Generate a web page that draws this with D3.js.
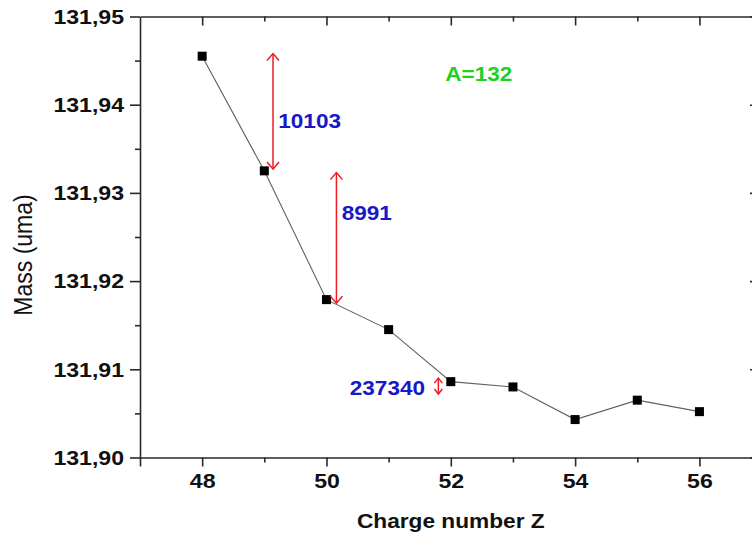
<!DOCTYPE html>
<html>
<head>
<meta charset="utf-8">
<script src="https://cdn.jsdelivr.net/npm/d3@7"></script>
<style>
  html, body { margin: 0; padding: 0; background: #fff; overflow: hidden; }
  svg { display: block; }
  text { font-family: "Liberation Sans", Arial, sans-serif; }
</style>
</head>
<body>
<svg id="chart" width="752" height="535"></svg>
<script>
// ---- data ----
const chargeZ = [48, 49, 50, 51, 52, 53, 54, 55, 56];
const massUma = [131.9455, 131.9325, 131.9179, 131.9145, 131.9086, 131.9080, 131.9043, 131.9065, 131.9052];

const xMajorTicks = [48, 50, 52, 54, 56];
const xTickLabels = ["48", "50", "52", "54", "56"];
const xMinorTicks = [49, 51, 53, 55];
const yMajorTicks = [131.90, 131.91, 131.92, 131.93, 131.94, 131.95];
const yTickLabels = ["131,90", "131,91", "131,92", "131,93", "131,94", "131,95"];
const yMinorTicks = [131.905, 131.915, 131.925, 131.935, 131.945];

// arrows: Z position, top mass, bottom mass
const arrowZ = [49.14, 50.16, 51.80];
const arrowTop = [131.9458, 131.9323, 131.9090];
const arrowBottom = [131.9327, 131.9175, 131.9072];
// annotation labels
const noteText = ["10103", "8991", "237340"];
const noteZ = [49.225, 50.245, 51.585];
const noteMass = [131.9374, 131.9269, 131.9071];
const noteAnchor = ["start", "start", "end"];
const tagText = "A=132";
const tagZ = 51.91;
const tagMass = 131.9427;

const xTitle = "Charge number Z";
const yTitle = "Mass (uma)";

(function () {
// ---- layout ----
const svg = d3.select("#chart");
const pLeft = 140, pRight = 756, pTop = 16.5, pBottom = 457.5;
const x = d3.scaleLinear().domain([47, 56.91]).range([pLeft, pRight]);
const y = d3.scaleLinear().domain([131.90, 131.95]).range([pBottom, pTop]);
const axisColor = "#2a2a2a";
const SX = 1.1;

function styleAxis(g) {
  g.selectAll("path, line").attr("stroke", axisColor).attr("stroke-width", 1.6);
}

// bottom axis
const gB = svg.append("g").attr("transform", `translate(0,${pBottom})`)
  .call(d3.axisBottom(x).tickValues(xMajorTicks)
    .tickFormat((d, i) => xTickLabels[i]).tickSize(9).tickSizeOuter(9).tickPadding(7));
gB.selectAll("text").attr("font-size", 21).attr("font-weight", "bold").attr("fill", "#111")
  .attr("transform", `scale(${SX},1)`);
svg.append("g").attr("transform", `translate(0,${pBottom})`)
  .call(d3.axisBottom(x).tickValues(xMinorTicks).tickFormat("").tickSize(5).tickSizeOuter(0))
  .call(g => g.select(".domain").remove()).call(styleAxis);
styleAxis(gB);

// top axis (ticks inward)
svg.append("g").attr("transform", `translate(0,${pTop})`)
  .call(d3.axisTop(x).tickValues(xMajorTicks).tickFormat("").tickSize(-9).tickSizeOuter(0))
  .call(styleAxis);
svg.append("g").attr("transform", `translate(0,${pTop})`)
  .call(d3.axisTop(x).tickValues(xMinorTicks).tickFormat("").tickSize(-5).tickSizeOuter(0))
  .call(g => g.select(".domain").remove()).call(styleAxis);

// left axis
const gL = svg.append("g").attr("transform", `translate(${pLeft},0)`)
  .call(d3.axisLeft(y).tickValues(yMajorTicks)
    .tickFormat((d, i) => yTickLabels[i]).tickSize(10).tickSizeOuter(0).tickPadding(4.5));
gL.selectAll("text").attr("font-size", 21).attr("font-weight", "bold").attr("fill", "#111")
  .attr("transform", `scale(${SX},1)`);
styleAxis(gL);
svg.append("g").attr("transform", `translate(${pLeft},0)`)
  .call(d3.axisLeft(y).tickValues(yMinorTicks).tickFormat("").tickSize(5).tickSizeOuter(0))
  .call(g => g.select(".domain").remove()).call(styleAxis);

// right axis (ticks inward)
svg.append("g").attr("transform", `translate(${pRight},0)`)
  .call(d3.axisRight(y).tickValues(yMajorTicks).tickFormat("").tickSize(-6).tickSizeOuter(0))
  .call(styleAxis);
svg.append("g").attr("transform", `translate(${pRight},0)`)
  .call(d3.axisRight(y).tickValues(yMinorTicks).tickFormat("").tickSize(-3.5).tickSizeOuter(0))
  .call(g => g.select(".domain").remove()).call(styleAxis);

// axis titles
svg.append("text")
  .attr("transform", `translate(${x(52)},528) scale(1.08,1)`)
  .attr("text-anchor", "middle").attr("font-size", 21).attr("font-weight", "bold")
  .attr("fill", "#111").text(xTitle);
svg.append("text")
  .attr("transform", `translate(32,255) rotate(-90) scale(1,1.1)`)
  .attr("text-anchor", "middle").attr("font-size", 23)
  .attr("fill", "#111").text(yTitle);

// data line
const pts = chargeZ.map((z, i) => [z, massUma[i]]);
svg.append("path")
  .datum(pts)
  .attr("fill", "none").attr("stroke", "#606060").attr("stroke-width", 1.1)
  .attr("d", d3.line().x(d => x(d[0])).y(d => y(d[1])));
const ms = 9;
svg.selectAll("rect.pt").data(pts).join("rect").attr("class", "pt")
  .attr("x", d => x(d[0]) - ms / 2).attr("y", d => y(d[1]) - ms / 2)
  .attr("width", ms).attr("height", ms).attr("fill", "#000");

// arrows
const red = "#ee1c24";
arrowZ.forEach((z, i) => {
  const ax = x(z), y1 = y(arrowTop[i]), y2 = y(arrowBottom[i]);
  const len = y2 - y1;
  const hw = len > 40 ? 6 : 4, hl = len > 40 ? 7 : 5;
  const g = svg.append("g").attr("stroke", red).attr("stroke-width", 1.5).attr("fill", "none");
  g.append("line").attr("x1", ax).attr("x2", ax).attr("y1", y1).attr("y2", y2);
  g.append("path").attr("d", `M${ax - hw},${y1 + hl}L${ax},${y1}L${ax + hw},${y1 + hl}`);
  g.append("path").attr("d", `M${ax - hw},${y2 - hl}L${ax},${y2}L${ax + hw},${y2 - hl}`);
});

// annotation labels
noteText.forEach((t, i) => {
  svg.append("text")
    .attr("transform", `translate(${x(noteZ[i])},${y(noteMass[i])}) scale(${SX},1)`)
    .attr("text-anchor", noteAnchor[i]).attr("font-size", 20.5).attr("font-weight", "bold")
    .attr("fill", "#1818c8").text(t);
});
svg.append("text")
  .attr("transform", `translate(${x(tagZ)},${y(tagMass)}) scale(${SX},1)`)
  .attr("font-size", 20.5).attr("font-weight", "bold").attr("fill", "#1fd01f").text(tagText);
})();
</script>
</body>
</html>
